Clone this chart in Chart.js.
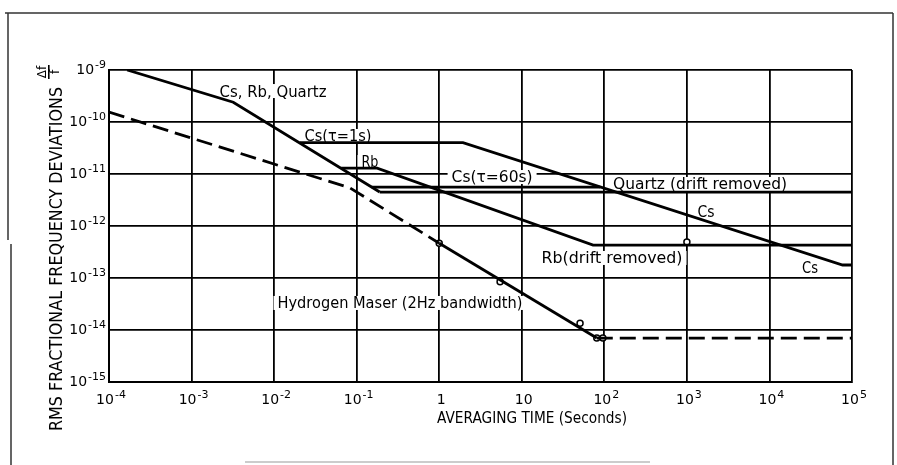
<!DOCTYPE html>
<html><head><meta charset="utf-8">
<script src="https://cdn.jsdelivr.net/npm/chart.js@4/dist/chart.umd.min.js"></script>
<style>html,body{margin:0;padding:0;background:#fff}canvas{display:block}</style>
</head><body>
<canvas id="c" width="897" height="465"></canvas>
<script>
// ---- data (averaging time in seconds, RMS fractional frequency deviation) ----
const xTickValues = [1e-4, 1e-3, 1e-2, 1e-1, 1, 10, 1e2, 1e3, 1e4, 1e5];
const xTickLabels = ["10^-4", "10^-3", "10^-2", "10^-1", "1", "10", "10^2", "10^3", "10^4", "10^5"];
const yTickValues = [1e-15, 1e-14, 1e-13, 1e-12, 1e-11, 1e-10, 1e-9];
const yTickLabels = ["10^-15", "10^-14", "10^-13", "10^-12", "10^-11", "10^-10", "10^-9"];

const csRbQuartzTau = [1.66e-4, 3.2e-3, 0.19];
const csRbQuartzSigma = [1e-9, 2.4e-10, 4.5e-12];
const cs1sTau = [0.0205, 1.94, 7.7e4, 1e5];
const cs1sSigma = [4.0e-11, 4.0e-11, 1.78e-13, 1.78e-13];
const cs60sTau = [0.152, 89];
const cs60sSigma = [5.6e-12, 5.6e-12];
const quartzTau = [0.19, 1e5];
const quartzSigma = [4.5e-12, 4.5e-12];
const rbTau = [0.065, 0.177, 73, 1e5];
const rbSigma = [1.3e-11, 1.3e-11, 4.3e-13, 4.3e-13];
const maserDashTau = [1e-4, 0.083, 1];
const maserDashSigma = [1.55e-10, 5.4e-12, 4.66e-13];
const maserSolidTau = [1, 81];
const maserSolidSigma = [4.66e-13, 7e-15];
const maserFloorTau = [81, 1e5];
const maserFloorSigma = [7e-15, 7e-15];
const markerTau = [1, 5.46, 50.8, 81, 96, 1000];
const markerSigma = [4.66e-13, 8.5e-14, 1.35e-14, 7e-15, 7e-15, 4.9e-13];

const curveLabels = ["Cs, Rb, Quartz", "Cs(τ=1s)", "Rb", "Cs(τ=60s)", "Quartz (drift removed)", "Cs", "Rb(drift removed)", "Cs", "Hydrogen Maser (2Hz bandwidth)"];
const curveLabelTau = [9.7e-3, 0.0594, 0.145, 4.37, 1443, 1706, 124, 3.1e4, 0.335];
const curveLabelSigma = [3.94e-10, 5.38e-11, 1.7e-11, 8.75e-12, 6.43e-12, 1.94e-12, 2.43e-13, 1.56e-13, 3.31e-14];
const curveLabelWidth = [107, 67, 17, 81, 174, 17, 141, 16, 245];

const xTitle = "AVERAGING TIME (Seconds)";
const yTitle = "RMS FRACTIONAL FREQUENCY DEVIATIONS";

// ---- helpers ----
const FONT = '"DejaVu Sans", sans-serif';
function pts(xs, ys) { return xs.map((x, i) => ({ x: x, y: ys[i] })); }
function lineDs(label, xs, ys, dash) {
  return { label: label, data: pts(xs, ys), showLine: true, borderColor: '#000', borderWidth: 2.8,
    pointRadius: 0, borderDash: dash || [], fill: false, tension: 0, borderCapStyle: 'butt' };
}
function fitText(ctx, text, cx, cy, width, size, rot) {
  ctx.save();
  ctx.translate(cx, cy);
  if (rot) ctx.rotate(rot);
  ctx.font = size + 'px ' + FONT;
  const w = ctx.measureText(text).width;
  ctx.scale(width / w, 1);
  ctx.textAlign = 'center';
  ctx.textBaseline = 'alphabetic';
  ctx.fillStyle = '#000';
  ctx.fillText(text, 0, size * 0.365);
  ctx.restore();
}
function drawPow(ctx, label, x, baseY, align) {
  const parts = label.split('^');
  const b = parts[0], e = parts[1];
  ctx.font = '14px ' + FONT;
  const wb = ctx.measureText(b).width;
  let we = 0;
  if (e) { ctx.font = '11px ' + FONT; we = ctx.measureText(e).width + 1; }
  const total = wb + we;
  const left = align === 'right' ? x - total : x - total / 2;
  ctx.textAlign = 'left'; ctx.textBaseline = 'alphabetic'; ctx.fillStyle = '#000';
  ctx.font = '14px ' + FONT; ctx.fillText(b, left, baseY);
  if (e) { ctx.font = '11px ' + FONT; ctx.fillText(e, left + wb + 1, baseY - 6); }
}

const decor = {
  id: 'decor',
  beforeDraw(chart) {
    const ctx = chart.ctx;
    ctx.save(); ctx.fillStyle = '#fff'; ctx.fillRect(0, 0, chart.width, chart.height); ctx.restore();
  },
  beforeDatasetsDraw(chart) {
    const ctx = chart.ctx, xs = chart.scales.x, ys = chart.scales.y;
    ctx.save(); ctx.fillStyle = '#fff';
    curveLabels.forEach((t, i) => {
      const px = xs.getPixelForValue(curveLabelTau[i]);
      const py = ys.getPixelForValue(curveLabelSigma[i]);
      const w = curveLabelWidth[i] + 8;
      ctx.fillRect(px - w / 2, py - 7, w, 14);
    });
    ctx.restore();
  },
  afterDatasetsDraw(chart) {
    const ctx = chart.ctx, xs = chart.scales.x, ys = chart.scales.y;
    curveLabels.forEach((t, i) => {
      const px = xs.getPixelForValue(curveLabelTau[i]);
      const py = ys.getPixelForValue(curveLabelSigma[i]);
      fitText(ctx, t, px, py, curveLabelWidth[i], 15, 0);
    });
  },
  afterDraw(chart) {
    const ctx = chart.ctx, xs = chart.scales.x, ys = chart.scales.y;
    ctx.save();
    yTickValues.forEach((v, i) => drawPow(ctx, yTickLabels[i], 106, ys.getPixelForValue(v) + 4, 'right'));
    xTickValues.forEach((v, i) => drawPow(ctx, xTickLabels[i], xs.getPixelForValue(v) + 2, 404, 'center'));
    // axis titles
    fitText(ctx, xTitle, 532, 418, 190, 15, 0);
    fitText(ctx, yTitle, 55, 259, 344, 18, -Math.PI / 2);
    // delta f / f
    ctx.save();
    ctx.translate(49, 72); ctx.rotate(-Math.PI / 2);
    ctx.fillStyle = '#000'; ctx.font = '12px ' + FONT; ctx.textAlign = 'center'; ctx.textBaseline = 'alphabetic';
    ctx.fillText('Δf', 0, -3);
    ctx.fillRect(-7, -1, 14, 1.6);
    ctx.fillText('f', 0, 10);
    ctx.restore();
    // page frame
    ctx.strokeStyle = '#333'; ctx.lineWidth = 1.5;
    ctx.beginPath();
    ctx.moveTo(5, 13); ctx.lineTo(893, 13);
    ctx.moveTo(8, 13); ctx.lineTo(8, 240);
    ctx.moveTo(11, 244); ctx.lineTo(11, 465);
    ctx.moveTo(893, 13); ctx.lineTo(893, 465);
    ctx.stroke();
    ctx.strokeStyle = '#999'; ctx.lineWidth = 1;
    ctx.beginPath(); ctx.moveTo(245, 462); ctx.lineTo(650, 462); ctx.stroke();
    ctx.restore();
  }
};

const gridOpts = { color: '#000', lineWidth: 1.8, drawTicks: false };
const borderOpts = { color: '#000', width: 2 };

new Chart(document.getElementById('c'), {
  type: 'scatter',
  data: {
    datasets: [
      lineDs('Cs, Rb, Quartz', csRbQuartzTau, csRbQuartzSigma),
      lineDs('Cs (τ=1s)', cs1sTau, cs1sSigma),
      lineDs('Cs (τ=60s)', cs60sTau, cs60sSigma),
      lineDs('Quartz (drift removed)', quartzTau, quartzSigma),
      lineDs('Rb', rbTau, rbSigma),
      lineDs('Hydrogen Maser', maserDashTau, maserDashSigma, [16, 7]),
      lineDs('Hydrogen Maser solid', maserSolidTau, maserSolidSigma),
      lineDs('Hydrogen Maser floor', maserFloorTau, maserFloorSigma, [16, 7]),
      { label: 'points', data: pts(markerTau, markerSigma), showLine: false, pointRadius: 3,
        pointBackgroundColor: '#fff', pointBorderColor: '#000', pointBorderWidth: 1.5 }
    ]
  },
  options: {
    responsive: false, animation: false, devicePixelRatio: 1,
    layout: { padding: { top: 70, right: 45, left: 0, bottom: 0 } },
    plugins: { legend: { display: false }, tooltip: { enabled: false } },
    scales: {
      x: {
        type: 'logarithmic', min: 1e-4, max: 1e5,
        afterBuildTicks: s => { s.ticks = xTickValues.map(v => ({ value: v })); },
        afterFit: s => { s.height = 83; },
        ticks: { display: false }, grid: gridOpts, border: borderOpts
      },
      y: {
        type: 'logarithmic', min: 1e-15, max: 1e-9,
        afterBuildTicks: s => { s.ticks = yTickValues.map(v => ({ value: v })); },
        afterFit: s => { s.width = 109; },
        ticks: { display: false }, grid: gridOpts, border: borderOpts
      }
    }
  },
  plugins: [decor]
});
</script>
</body></html>
